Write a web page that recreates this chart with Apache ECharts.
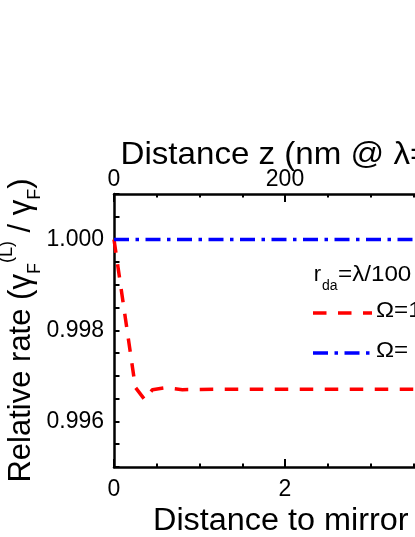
<!DOCTYPE html>
<html>
<head>
<meta charset="utf-8">
<script src="https://cdn.jsdelivr.net/npm/echarts@6/dist/echarts.min.js"></script>
<style>
html,body{margin:0;padding:0;background:#fff;}
#chart{width:415px;height:537px;}
</style>
</head>
<body>
<div id="chart"></div>
<script>
// Distance to mirror (bottom axis units)
const distance = [0, 0.25, 0.36, 0.45, 0.6, 0.8, 1.2, 2, 3, 4, 5];
// Relative rate, Omega = 1 (red dashed)
const rateOmega1 = [1.0, 0.99675, 0.99648, 0.99670, 0.99674, 0.99670, 0.99671, 0.99671, 0.99671, 0.99671, 0.99671];
// Relative rate, Omega = 0 (blue dash-dot)
const rateOmega0 = [1.0, 1.0, 1.0, 1.0, 1.0, 1.0, 1.0, 1.0, 1.0, 1.0, 1.0];
// Axis tick labels
const yTickLabels = ['0.996', '0.998', '1.000'];
const topAxisTicks = [0, 200, 400];
const bottomAxisTicks = [0, 2, 4];

const FONT = '"Liberation Sans", Arial, sans-serif';

const chart = echarts.init(document.getElementById('chart'), null, {renderer: 'canvas', width: 415, height: 537});

const tickStyle = {color: '#000', width: 2};

chart.setOption({
  backgroundColor: '#fff',
  animation: false,
  grid: {left: 114, top: 194, width: 427.5, height: 273, containLabel: false, outerBoundsMode: 'none'},
  xAxis: [
    {
      type: 'value', position: 'bottom', min: 0, max: 5, interval: 2,
      axisLine: {show: true, onZero: false, lineStyle: {color: '#000', width: 2.5}},
      axisTick: {show: true, inside: true, length: 8, lineStyle: tickStyle},
      minorTick: {show: true, splitNumber: 4, length: 3.5, lineStyle: tickStyle},
      splitLine: {show: false},
      axisLabel: {
        margin: 11, fontSize: 23, color: '#000', fontFamily: FONT,
        formatter: v => bottomAxisTicks.includes(v) ? String(v) : ''
      }
    },
    {
      type: 'value', position: 'top', min: 0, max: 500, interval: 200,
      axisLine: {show: true, onZero: false, lineStyle: {color: '#000', width: 2.5}},
      axisTick: {show: true, inside: true, length: 8, lineStyle: tickStyle},
      minorTick: {show: true, splitNumber: 4, length: 3.5, lineStyle: tickStyle},
      splitLine: {show: false},
      axisLabel: {
        margin: 3, fontSize: 23, color: '#000', fontFamily: FONT,
        formatter: v => topAxisTicks.includes(v) ? String(v) : ''
      }
    }
  ],
  yAxis: {
    type: 'value', min: 0.995, max: 1.001, interval: 0.0005,
    axisLine: {show: true, onZero: false, lineStyle: {color: '#000', width: 2.5}},
    axisTick: {show: true, inside: true, length: 5.5, lineStyle: tickStyle},
    splitLine: {show: false},
    axisLabel: {
      margin: 10, fontSize: 23, color: '#000', fontFamily: FONT,
      formatter: v => {
        const s = v.toFixed(3);
        const m = Math.round(v * 10000);
        return (m % 20 === 0 && yTickLabels.includes(s)) ? s : '';
      }
    },
    name: 'Relative rate (γ{sub|F}{sup|(L)} / γ{sub|F})',
    nameLocation: 'middle',
    nameGap: 70,
    nameMoveOverlap: false,
    nameTextStyle: {
      fontFamily: FONT, fontSize: 31, color: '#000', lineHeight: 46,
      rich: {
        sub: {fontFamily: FONT, fontSize: 18, color: '#000', lineHeight: 18, verticalAlign: 'bottom'},
        sup: {fontFamily: FONT, fontSize: 18, color: '#000', lineHeight: 24, verticalAlign: 'top'}
      }
    }
  },
  series: [
    {
      type: 'line', name: 'Ω=1', xAxisIndex: 0,
      data: distance.map((d, i) => [d, rateOmega1[i]]),
      showSymbol: false, symbol: 'none',
      lineStyle: {color: '#ff0000', width: 3.5, type: [13.5, 11.5], cap: 'butt'},
      z: 2
    },
    {
      type: 'line', name: 'Ω=0', xAxisIndex: 0,
      data: distance.map((d, i) => [d, rateOmega0[i]]),
      showSymbol: false, symbol: 'none',
      lineStyle: {color: '#0000ff', width: 3.5, type: [15, 6.5, 3.5, 6.5], cap: 'butt'},
      z: 3
    }
  ],
  graphic: [
    {type: 'text', x: 120.5, y: 155.6, z: 10, scaleX: 1.035,
      style: {text: 'Distance z (nm @ λ=100 nm)', font: '32px ' + FONT, fill: '#000', align: 'left', verticalAlign: 'middle'}},
    {type: 'text', x: 153, y: 521, z: 10, scaleX: 1.045,
      style: {text: 'Distance to mirror (z/λ)', font: '31px ' + FONT, fill: '#000', align: 'left', verticalAlign: 'middle'}},
    {type: 'text', x: 313.7, y: 274.5, z: 10,
      style: {text: 'r', font: '22px ' + FONT, fill: '#000', align: 'left', verticalAlign: 'middle'}},
    {type: 'text', x: 322, y: 286.5, z: 10,
      style: {text: 'da', font: '14px ' + FONT, fill: '#000', align: 'left', verticalAlign: 'middle'}},
    {type: 'text', x: 338, y: 274.5, z: 10, scaleX: 1.1,
      style: {text: '=λ/100', font: '22px ' + FONT, fill: '#000', align: 'left', verticalAlign: 'middle'}},
    {type: 'line', z: 10, shape: {x1: 313, y1: 313, x2: 372, y2: 313},
      style: {stroke: '#ff0000', lineWidth: 3.5, lineDash: [13.5, 11.5]}},
    {type: 'text', x: 376, y: 310.5, z: 10, scaleX: 1.1,
      style: {text: 'Ω=1', font: '22px ' + FONT, fill: '#000', align: 'left', verticalAlign: 'middle'}},
    {type: 'line', z: 10, shape: {x1: 313, y1: 353, x2: 372, y2: 353},
      style: {stroke: '#0000ff', lineWidth: 3.5, lineDash: [15, 6.5, 3.5, 6.5]}},
    {type: 'text', x: 376, y: 350.5, z: 10, scaleX: 1.1,
      style: {text: 'Ω= 0', font: '22px ' + FONT, fill: '#000', align: 'left', verticalAlign: 'middle'}}
  ]
});
</script>
</body>
</html>
